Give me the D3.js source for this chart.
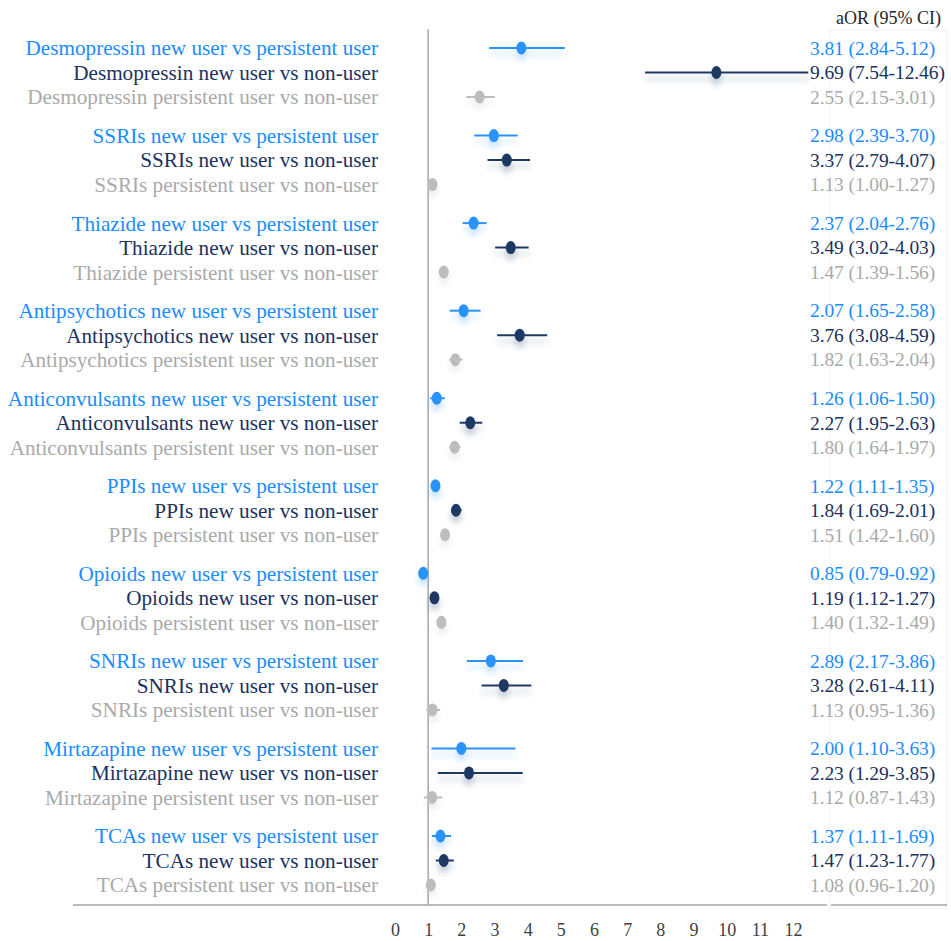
<!DOCTYPE html>
<html>
<head>
<meta charset="utf-8">
<script src="https://cdn.jsdelivr.net/npm/d3@7/dist/d3.min.js"></script>
<style>
  html, body { margin: 0; padding: 0; background: #fff; }
  svg { display: block; }
</style>
</head>
<body>
<svg id="chart" width="951" height="941"></svg>
<script>
// Drug classes, top to bottom
const drugs = ["Desmopressin", "SSRIs", "Thiazide", "Antipsychotics", "Anticonvulsants",
               "PPIs", "Opioids", "SNRIs", "Mirtazapine", "TCAs"];
// Comparisons shown for every drug class
const comparisons = ["new user vs persistent user", "new user vs non-user", "persistent user vs non-user"];

// Adjusted odds ratios and 95% CI, new user vs persistent user
const orNewPersist = [3.81, 2.98, 2.37, 2.07, 1.26, 1.22, 0.85, 2.89, 2.00, 1.37];
const loNewPersist = [2.84, 2.39, 2.04, 1.65, 1.06, 1.11, 0.79, 2.17, 1.10, 1.11];
const hiNewPersist = [5.12, 3.70, 2.76, 2.58, 1.50, 1.35, 0.92, 3.86, 3.63, 1.69];

// new user vs non-user
const orNewNon = [9.69, 3.37, 3.49, 3.76, 2.27, 1.84, 1.19, 3.28, 2.23, 1.47];
const loNewNon = [7.54, 2.79, 3.02, 3.08, 1.95, 1.69, 1.12, 2.61, 1.29, 1.23];
const hiNewNon = [12.46, 4.07, 4.03, 4.59, 2.63, 2.01, 1.27, 4.11, 3.85, 1.77];

// persistent user vs non-user
const orPersistNon = [2.55, 1.13, 1.47, 1.82, 1.80, 1.51, 1.40, 1.13, 1.12, 1.08];
const loPersistNon = [2.15, 1.00, 1.39, 1.63, 1.64, 1.42, 1.32, 0.95, 0.87, 0.96];
const hiPersistNon = [3.01, 1.27, 1.56, 2.04, 1.97, 1.60, 1.49, 1.36, 1.43, 1.20];

// x-axis tick values
const xTicks = [0, 1, 2, 3, 4, 5, 6, 7, 8, 9, 10, 11, 12];

const seriesColors = ["#2b93fb", "#1f3864", "#bdbdbd"];
const textColors   = ["#1a8cff", "#1c3260", "#aaaaaa"];
const series = [
  { or: orNewPersist, lo: loNewPersist, hi: hiNewPersist },
  { or: orNewNon,     lo: loNewNon,     hi: hiNewNon },
  { or: orPersistNon, lo: loPersistNon, hi: hiPersistNon }
];

// Flatten into one row per drug / comparison
const rows = [];
drugs.forEach((drug, g) => {
  comparisons.forEach((cmp, k) => {
    rows.push({
      group: g, k,
      label: drug + " " + cmp,
      or: series[k].or[g], lo: series[k].lo[g], hi: series[k].hi[g]
    });
  });
});

const svg = d3.select("#chart");
const font = "'Liberation Serif', 'Times New Roman', serif";

const x = d3.scaleLinear().domain([0, 12]).range([395, 793]);
const yGroup = d3.scaleLinear().domain([0, drugs.length - 1]).range([48, 836]);
const yWithin = d3.scalePoint().domain(d3.range(comparisons.length)).range([0, 49]);
const y = r => yGroup(r.group) + yWithin(r.k);

const axisY = 905;

// soft drop glow below markers
const defs = svg.append("defs");
const f = defs.append("filter").attr("id", "glow")
  .attr("x", "-50%").attr("y", "-100%").attr("width", "200%").attr("height", "400%");
f.append("feGaussianBlur").attr("in", "SourceGraphic").attr("stdDeviation", 3).attr("result", "b");
f.append("feOffset").attr("in", "b").attr("dy", 6).attr("result", "o");
f.append("feComponentTransfer").attr("in", "o").attr("result", "t")
  .append("feFuncA").attr("type", "linear").attr("slope", 0.28);
const m = f.append("feMerge");
m.append("feMergeNode").attr("in", "t");
m.append("feMergeNode").attr("in", "SourceGraphic");

// right-hand table frame
svg.append("rect")
  .attr("x", 830).attr("y", 30).attr("width", 117).attr("height", axisY - 30 + 3)
  .attr("fill", "none").attr("stroke", "#f2f2f2").attr("stroke-width", 1);

// reference line at OR = 1
svg.append("line")
  .attr("x1", x(1)).attr("x2", x(1)).attr("y1", 29).attr("y2", axisY)
  .attr("stroke", "#a6a6a6").attr("stroke-width", 1.5);

// bottom rules
svg.append("line").attr("x1", 73).attr("x2", 827).attr("y1", axisY).attr("y2", axisY)
  .attr("stroke", "#a6a6a6").attr("stroke-width", 1.5);
svg.append("line").attr("x1", 831).attr("x2", 947).attr("y1", axisY).attr("y2", axisY)
  .attr("stroke", "#a6a6a6").attr("stroke-width", 1.5);

// x axis labels
const xAxis = d3.axisBottom(x).tickValues(xTicks).tickSize(0).tickPadding(0).tickFormat(d3.format("d"));
const ax = svg.append("g").attr("transform", `translate(0,${axisY + 18})`).call(xAxis);
ax.select(".domain").remove();
ax.selectAll("text").attr("font-family", font).attr("font-size", 18).attr("fill", "#404040");

// row labels
svg.append("g").selectAll("text").data(rows).join("text")
  .attr("x", 378).attr("y", y).attr("dy", "0.35em")
  .attr("text-anchor", "end")
  .attr("font-family", font).attr("font-size", 21.2)
  .attr("fill", d => textColors[d.k])
  .text(d => d.label);

// estimates with confidence intervals
const marks = svg.append("g").selectAll("g").data(rows).join("g").attr("filter", "url(#glow)");
marks.append("line")
  .attr("x1", d => x(d.lo)).attr("x2", d => x(d.hi))
  .attr("y1", y).attr("y2", y)
  .attr("stroke", d => seriesColors[d.k]).attr("stroke-width", 2);
marks.append("ellipse")
  .attr("cx", d => x(d.or)).attr("cy", y).attr("rx", 5).attr("ry", 6.5)
  .attr("fill", d => seriesColors[d.k]);

// aOR (95% CI) column
svg.append("text").attr("x", 836).attr("y", 18).attr("dy", "0.35em")
  .attr("font-family", font).attr("font-size", 18).attr("fill", "#262626")
  .text("aOR (95% CI)");
const fmt = d3.format(".2f");
svg.append("g").selectAll("text").data(rows).join("text")
  .attr("x", 810).attr("y", y).attr("dy", "0.35em")
  .attr("font-family", font).attr("font-size", 19.5)
  .attr("letter-spacing", -0.1)
  .attr("fill", d => textColors[d.k])
  .text(d => `${fmt(d.or)} (${fmt(d.lo)}-${fmt(d.hi)})`);
</script>
</body>
</html>
